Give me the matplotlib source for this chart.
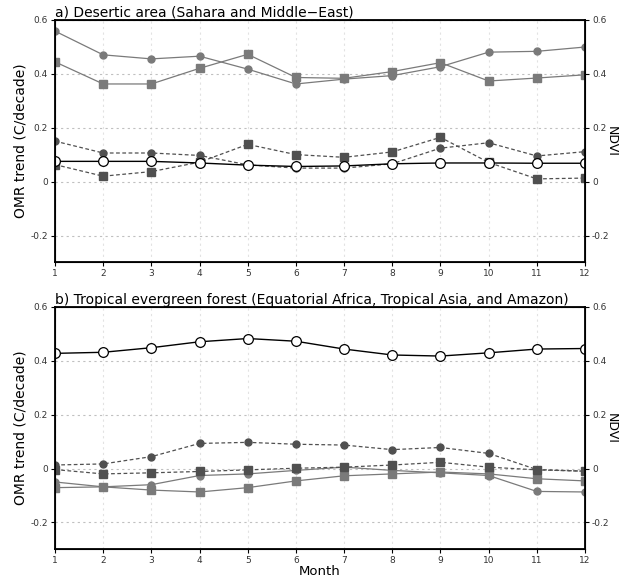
import numpy as np
import matplotlib.pyplot as plt

months = np.arange(1, 13)

# a) desert region
a_gray_circ = [0.558, 0.47, 0.455, 0.465, 0.417, 0.362, 0.38, 0.393, 0.426, 0.48, 0.483, 0.499]
a_gray_sq = [0.444, 0.362, 0.362, 0.42, 0.472, 0.386, 0.383, 0.408, 0.441, 0.373, 0.384, 0.396]
a_dark_circ = [0.15, 0.106, 0.106, 0.097, 0.062, 0.05, 0.05, 0.066, 0.124, 0.144, 0.095, 0.111]
a_dark_sq = [0.063, 0.02, 0.037, 0.072, 0.138, 0.1, 0.09, 0.11, 0.164, 0.071, 0.01, 0.013]
a_open = [0.075, 0.075, 0.075, 0.069, 0.061, 0.056, 0.058, 0.066, 0.069, 0.069, 0.068, 0.068]

# b) tropical evergreen forest
b_gray_circ = [-0.05, -0.068, -0.06, -0.026, -0.02, -0.007, 0.005, -0.007, -0.016, -0.026, -0.085, -0.087]
b_gray_sq = [-0.071, -0.068, -0.08, -0.087, -0.071, -0.046, -0.027, -0.02, -0.013, -0.02, -0.038, -0.046]
b_dark_circ = [0.013, 0.017, 0.044, 0.093, 0.097, 0.09, 0.087, 0.07, 0.078, 0.056, -0.004, -0.01]
b_dark_sq = [-0.004, -0.02, -0.016, -0.011, -0.005, 0.001, 0.005, 0.013, 0.023, 0.005, -0.005, -0.01]
b_open = [0.427, 0.431, 0.448, 0.47, 0.482, 0.472, 0.443, 0.421, 0.417, 0.429, 0.443, 0.445]

yticks = [-0.2, 0, 0.2, 0.4, 0.6]
yticklabels = ['-0.2', '0', '0.2', '0.4', '0.6']

fig = plt.figure(figsize=(6.25, 5.82), dpi=100)
ax_a = fig.add_axes([0.088, 0.549, 0.848, 0.417])
ax_b = fig.add_axes([0.088, 0.056, 0.848, 0.417])

gray = '#7a7a7a'
dark = '#505050'


def panel(ax, title, gc, gs, dc, ds, oc):
    ax.plot(months, gc, color=gray, lw=0.9, marker='o', ms=5, mec=gray, mfc=gray)
    ax.plot(months, gs, color=gray, lw=0.9, marker='s', ms=5.5, mec=gray, mfc=gray)
    ax.plot(months, dc, color=dark, lw=0.9, ls=(0, (3, 2)), marker='o', ms=5, mec=dark, mfc=dark)
    ax.plot(months, ds, color=dark, lw=0.9, ls=(0, (3, 2)), marker='s', ms=5.5, mec=dark, mfc=dark)
    ax.plot(months, oc, color='black', lw=1.0, marker='o', ms=7, mec='black', mfc='white', mew=0.9)
    ax.set_xlim(1, 12)
    ax.set_ylim(-0.3, 0.6)
    ax.set_xticks(months)
    ax.set_xticklabels([str(m) for m in months], fontsize=6.5, color='#333333')
    ax.set_yticks(yticks)
    ax.set_yticklabels(yticklabels, fontsize=6.5, color='#333333')
    ax.tick_params(length=3, width=0.8, pad=2)
    ax.grid(True, axis='x', color='#e2e2e2', ls=(0, (2, 3)), lw=0.8)
    ax.grid(True, axis='y', color='#c0c0c0', ls=(0, (2, 3)), lw=0.8)
    ax.set_axisbelow(True)
    for sp in ax.spines.values():
        sp.set_linewidth(1.3)
    ax.set_ylabel('OMR trend (C/decade)', fontsize=10, labelpad=2)
    ax.set_title(title, loc='left', fontsize=10, pad=2)

    rx = ax.twinx()
    rx.set_ylim(-0.3, 0.6)
    rx.set_yticks(yticks)
    rx.set_yticklabels(yticklabels, fontsize=6.5, color='#333333')
    rx.tick_params(length=3, width=0.8, pad=2)
    rx.set_ylabel('NDVI', fontsize=9, rotation=270, labelpad=6)


panel(ax_a, 'a) Desertic area (Sahara and Middle\u2212East)',
      a_gray_circ, a_gray_sq, a_dark_circ, a_dark_sq, a_open)
panel(ax_b, 'b) Tropical evergreen forest (Equatorial Africa, Tropical Asia, and Amazon)',
      b_gray_circ, b_gray_sq, b_dark_circ, b_dark_sq, b_open)
ax_b.set_xlabel('Month', fontsize=9.5, labelpad=0)

fig.savefig('out.png', dpi=100)
